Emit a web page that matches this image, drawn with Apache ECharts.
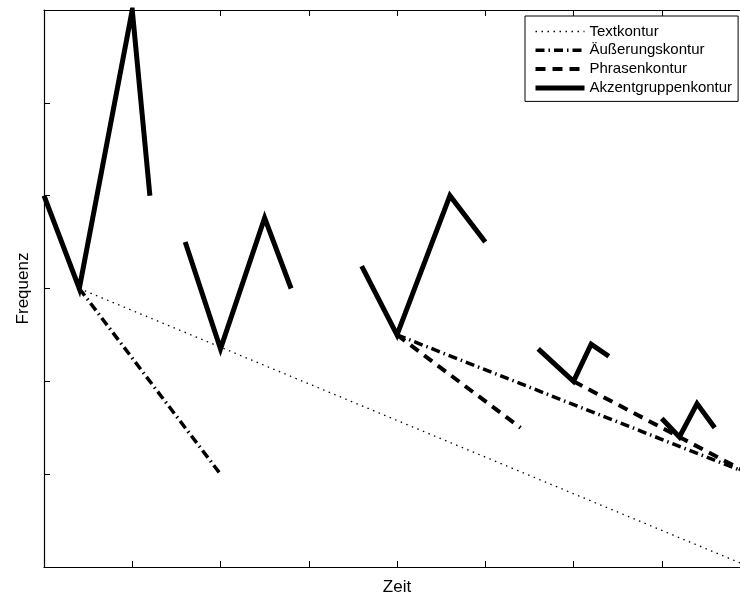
<!DOCTYPE html>
<html>
<head>
<meta charset="utf-8">
<script src="https://cdn.jsdelivr.net/npm/echarts@6/dist/echarts.min.js"></script>
<style>html,body{margin:0;padding:0;background:#fff}#c{width:740px;height:595px}</style>
</head>
<body>
<div id="c"></div>
<script>
// Segments: each is a list of [Zeit, Frequenz] points
const textkontur = [
  [[0.4, 3.0], [8.0, 0.0]]
];
const aeusserungskontur = [
  [[0.4, 3.0], [2.0, 1.0]],
  [[4.0, 2.5], [8.0, 1.0]]
];
const phrasenkontur = [
  [[4.0, 2.5], [5.4, 1.5]],
  [[6.0, 2.0], [8.0, 1.0]]
];
const akzentgruppenkontur = [
  [[0.0, 4.0], [0.4, 3.0], [1.0, 6.0], [1.2, 4.0]],
  [[1.6, 3.5], [2.0, 2.35], [2.5, 3.76], [2.8, 3.0]],
  [[3.6, 3.24], [4.0, 2.5], [4.6, 4.0], [5.0, 3.5]],
  [[5.6, 2.35], [6.0, 2.0], [6.2, 2.4], [6.4, 2.27]],
  [[7.0, 1.6], [7.2, 1.4], [7.4, 1.76], [7.6, 1.5]]
];
const names = ['Textkontur', 'Äußerungskontur', 'Phrasenkontur', 'Akzentgruppenkontur'];

function joinSegments(segs) {
  const out = [];
  segs.forEach((s, i) => {
    if (i > 0) out.push(['-', '-']);
    s.forEach(p => out.push(p));
  });
  return out;
}

const styles = [
  { width: 1.3, type: [1.5, 4.5] },
  { width: 3.5, type: [9, 4, 1.5, 4] },
  { width: 4, type: [10, 7] },
  { width: 5, type: 'solid' }
];
const allData = [textkontur, aeusserungskontur, phrasenkontur, akzentgruppenkontur];

const chart = echarts.init(document.getElementById('c'), null, { renderer: 'canvas' });
const axisCommon = {
  type: 'value',
  axisLine: { show: true, onZero: false, lineStyle: { color: '#000', width: 1.2 } },
  axisTick: { show: true, inside: true, length: 6, lineStyle: { color: '#000', width: 1 } },
  axisLabel: { show: false },
  splitLine: { show: false }
};
chart.setOption({
  animation: false,
  backgroundColor: '#fff',
  grid: { left: 44, top: 10, width: 706, height: 557, containLabel: false, outerBoundsMode: 'none' },
  xAxis: [
    Object.assign({}, axisCommon, {
      min: 0, max: 8, interval: 1, position: 'bottom',
      name: 'Zeit', nameLocation: 'middle', nameGap: 12,
      nameTextStyle: { fontFamily: 'Liberation Sans', fontSize: 17, color: '#000' }
    }),
    Object.assign({}, axisCommon, { min: 0, max: 8, interval: 1, position: 'top' })
  ],
  yAxis: [
    Object.assign({}, axisCommon, {
      min: 0, max: 6, interval: 1, position: 'left',
      name: 'Frequenz', nameLocation: 'middle', nameGap: 12,
      nameTextStyle: { fontFamily: 'Liberation Sans', fontSize: 17, color: '#000' }
    })
  ],
  legend: {
    data: names.map((n, i) => ({
      name: n,
      lineStyle: { color: '#000', width: styles[i].width, type: styles[i].type, cap: 'butt' }
    })),
    orient: 'vertical',
    left: 525, top: 16,
    padding: [8, 6, 6, 8],
    itemWidth: 49, itemHeight: 14, itemGap: 3.8,
    backgroundColor: '#fff',
    borderColor: '#000', borderWidth: 1, borderRadius: 0,
    itemStyle: { color: 'rgba(0,0,0,0)', borderWidth: 0, opacity: 0 },
    textStyle: { fontFamily: 'Liberation Sans', fontSize: 15, lineHeight: 14, color: '#000' }
  },
  series: names.map((n, i) => ({
    name: n,
    type: 'line',
    data: joinSegments(allData[i]),
    showSymbol: false,
    symbol: 'none',
    connectNulls: false,
    color: '#000',
    lineStyle: { color: '#000', width: styles[i].width, type: styles[i].type, cap: 'butt', join: 'miter' },
    z: 2 + i
  }))
});
</script>
</body>
</html>
